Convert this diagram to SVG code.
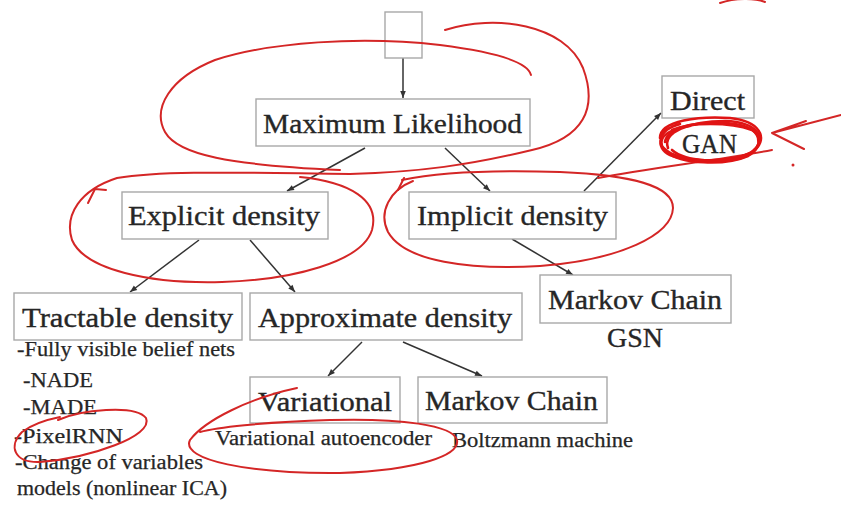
<svg xmlns="http://www.w3.org/2000/svg" width="841" height="505" viewBox="0 0 841 505">
<style>
.box{fill:#fff;stroke:#a8a8a8;stroke-width:1.4}
.lbl{font-family:"Liberation Serif","Times New Roman",serif;font-size:28px;fill:#262626;stroke:#262626;stroke-width:0.35}
.sm{font-family:"Liberation Serif","Times New Roman",serif;font-size:20px;fill:#262626;stroke:#262626;stroke-width:0.25}
.edge{stroke:#333;stroke-width:1.5;fill:none;marker-end:url(#ah)}
.red{fill:none;stroke:#d42626;stroke-width:2;stroke-linecap:round;stroke-linejoin:round}
.redb{fill:none;stroke:#e01414;stroke-width:2.6;stroke-linecap:round}
</style>
<defs>
<marker id="ah" viewBox="0 0 10 10" refX="10" refY="5" markerWidth="8" markerHeight="7" orient="auto" markerUnits="userSpaceOnUse">
<path d="M0,1 L10,5 L0,9 z" fill="#333"/>
</marker>
</defs>
<rect width="841" height="505" fill="#fff"/>

<g id="connectors">
<line class="edge" x1="403" y1="58" x2="403" y2="98"/>
<line class="edge" x1="365" y1="148" x2="287" y2="191"/>
<line class="edge" x1="445" y1="148" x2="490" y2="191"/>
<line class="edge" x1="199" y1="240" x2="130" y2="292"/>
<line class="edge" x1="250" y1="240" x2="295" y2="292"/>
<line class="edge" x1="512" y1="239" x2="573" y2="275"/>
<line class="edge" x1="584" y1="191" x2="661" y2="113"/>
<line class="edge" x1="362" y1="342" x2="328" y2="376"/>
<line class="edge" x1="403" y1="342" x2="482" y2="376"/>
</g>

<g id="n-top"><rect class="box" x="385" y="12" width="37" height="46"/></g>
<g id="n-ml"><rect class="box" x="256" y="99" width="274" height="47"/>
<text class="lbl" x="263" y="133" textLength="259" lengthAdjust="spacingAndGlyphs">Maximum Likelihood</text></g>
<g id="n-explicit"><rect class="box" x="122" y="192" width="206" height="47"/>
<text class="lbl" x="128" y="225" textLength="192" lengthAdjust="spacingAndGlyphs">Explicit density</text></g>
<g id="n-implicit"><rect class="box" x="409" y="192" width="207" height="47"/>
<text class="lbl" x="417" y="225" textLength="191" lengthAdjust="spacingAndGlyphs">Implicit density</text></g>
<g id="n-direct"><rect class="box" x="662" y="76" width="92" height="42"/>
<text class="lbl" x="670" y="110" textLength="75" lengthAdjust="spacingAndGlyphs">Direct</text>
<text class="lbl" x="682" y="153" textLength="55" lengthAdjust="spacingAndGlyphs">GAN</text></g>
<g id="n-tractable"><rect class="box" x="14" y="293" width="228" height="47"/>
<text class="lbl" x="22" y="327" textLength="211" lengthAdjust="spacingAndGlyphs">Tractable density</text>
<text class="sm" x="17" y="356" textLength="218" lengthAdjust="spacingAndGlyphs">-Fully visible belief nets</text>
<text class="sm" x="23" y="387" textLength="70" lengthAdjust="spacingAndGlyphs">-NADE</text>
<text class="sm" x="23" y="414" textLength="74" lengthAdjust="spacingAndGlyphs">-MADE</text>
<text class="sm" x="14" y="443" textLength="109" lengthAdjust="spacingAndGlyphs">-PixelRNN</text>
<text class="sm" x="15" y="469" textLength="188" lengthAdjust="spacingAndGlyphs">-Change of variables</text>
<text class="sm" x="17" y="495" textLength="210" lengthAdjust="spacingAndGlyphs">models (nonlinear ICA)</text></g>
<g id="n-approx"><rect class="box" x="250" y="293" width="272" height="47"/>
<text class="lbl" x="258" y="327" textLength="254" lengthAdjust="spacingAndGlyphs">Approximate density</text></g>
<g id="n-markov1"><rect class="box" x="540" y="275" width="191" height="48"/>
<text class="lbl" x="548" y="309" textLength="174" lengthAdjust="spacingAndGlyphs">Markov Chain</text>
<text class="lbl" x="607" y="347" textLength="56" lengthAdjust="spacingAndGlyphs">GSN</text></g>
<g id="n-variational"><rect class="box" x="250" y="377" width="150" height="46"/>
<text class="lbl" x="258" y="411" textLength="134" lengthAdjust="spacingAndGlyphs">Variational</text>
<text class="sm" x="215" y="445" textLength="217" lengthAdjust="spacingAndGlyphs">Variational autoencoder</text></g>
<g id="n-markov2"><rect class="box" x="418" y="377" width="189" height="46"/>
<text class="lbl" x="425" y="410" textLength="173" lengthAdjust="spacingAndGlyphs">Markov Chain</text>
<text class="sm" x="452" y="447" textLength="181" lengthAdjust="spacingAndGlyphs">Boltzmann machine</text></g>

<g id="annotations">
<path class="red" d="M445 30 C495 14,565 24,583 68 C598 108,584 138,532 150 C470 165,420 172,350 174 C250 173,165 170,117 178 C80 190,64 215,72 240 C85 270,150 284,222 282 C292 280,362 262,372 230 C380 200,350 182,300 177"/>
<path class="red" d="M531 75 C528 62,495 52,440 45 C360 36,270 42,215 60 C170 78,152 108,165 132 C178 155,230 165,340 170"/>
<path class="red" d="M88 203 L95 189 L106 190"/>
<path class="red" d="M413 181 C390 190,378 212,388 232 C405 262,470 270,540 266 C620 260,672 235,673 208 C673 185,630 175,560 172 C500 170,440 172,402 180"/>
<path class="red" d="M404 178 L398 190 M598 178 C650 168,720 160,772 150"/>
<path class="redb" d="M660 138 C660 120,700 116,730 118 C760 121,768 138,755 150 C740 162,690 163,670 155 C655 148,657 130,680 124"/>
<path class="redb" d="M665 142 C668 125,705 120,735 124 C762 128,765 146,748 156 C725 166,680 164,667 152"/>
<path class="redb" d="M672 130 C690 122,730 122,752 130 C768 140,755 158,730 160 C700 163,670 158,662 146 C658 136,672 128,690 126"/>
<path class="redb" d="M668 148 C662 132,690 121,725 121 C758 122,770 140,750 153 C728 165,685 162,672 150"/>
<path class="red" d="M841 115 L772 133 M806 121 L772 133 L804 149"/>
<circle cx="793" cy="165" r="1.5" fill="#d42626"/>
<path class="red" d="M720 3 C735 -2,755 -2,765 2"/>
<path class="red" d="M58 420 C80 410,135 404,146 418 C154 436,90 458,40 462 C14 463,8 446,22 432 C30 426,45 420,60 417"/>
<path class="red" d="M297 388 C250 398,205 420,190 440 C180 460,250 474,340 473 C420 470,460 455,457 440 C453 425,400 418,330 420 C260 422,215 428,200 432"/>
</g>
</svg>
